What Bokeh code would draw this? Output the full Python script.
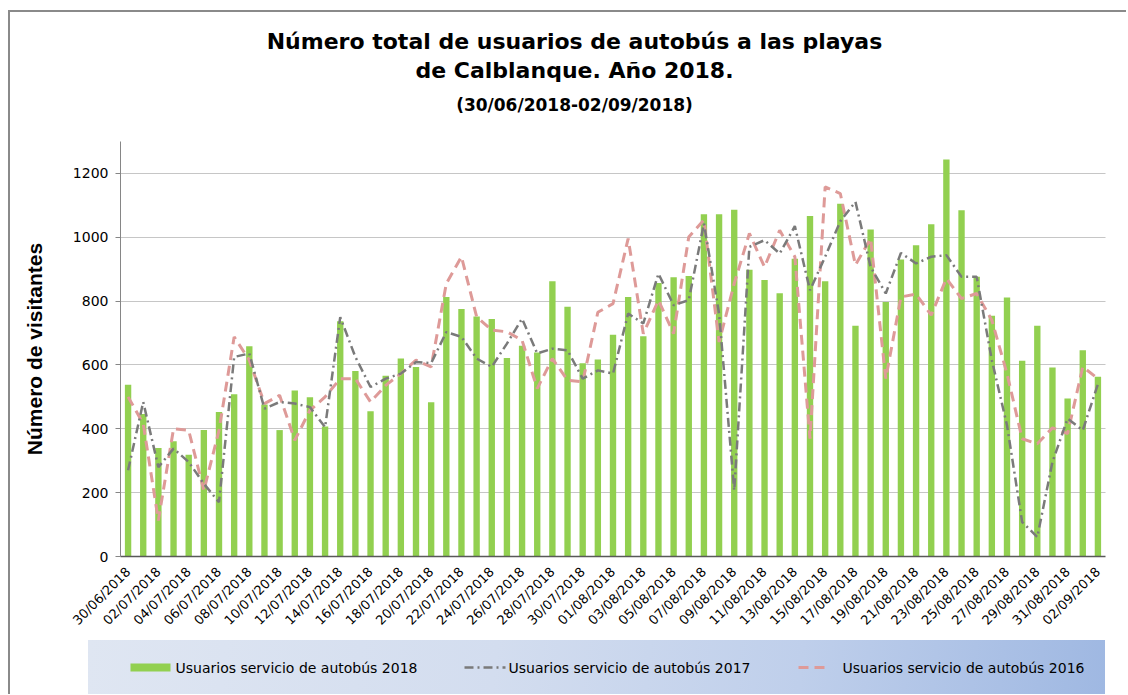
from math import pi
from bokeh.plotting import figure
from bokeh.layouts import column
from bokeh.models import Range1d, FixedTicker, ColumnDataSource
from bokeh.core.properties import value
from bokeh.embed import file_html
from bokeh.resources import INLINE

# ---------------- data ----------------
dates = [
    "30/06/2018",
    "01/07/2018", "02/07/2018", "03/07/2018", "04/07/2018", "05/07/2018", "06/07/2018", "07/07/2018",
    "08/07/2018", "09/07/2018", "10/07/2018", "11/07/2018", "12/07/2018", "13/07/2018", "14/07/2018",
    "15/07/2018", "16/07/2018", "17/07/2018", "18/07/2018", "19/07/2018", "20/07/2018", "21/07/2018",
    "22/07/2018", "23/07/2018", "24/07/2018", "25/07/2018", "26/07/2018", "27/07/2018", "28/07/2018",
    "29/07/2018", "30/07/2018", "31/07/2018",
    "01/08/2018", "02/08/2018", "03/08/2018", "04/08/2018", "05/08/2018", "06/08/2018", "07/08/2018",
    "08/08/2018", "09/08/2018", "10/08/2018", "11/08/2018", "12/08/2018", "13/08/2018", "14/08/2018",
    "15/08/2018", "16/08/2018", "17/08/2018", "18/08/2018", "19/08/2018", "20/08/2018", "21/08/2018",
    "22/08/2018", "23/08/2018", "24/08/2018", "25/08/2018", "26/08/2018", "27/08/2018", "28/08/2018",
    "29/08/2018", "30/08/2018", "31/08/2018",
    "01/09/2018", "02/09/2018",
]

bus_2018 = [538, 446, 340, 361, 319, 396, 453, 508, 659, 476, 396, 520, 499, 407, 737, 581,
            455, 566, 620, 594, 483, 813, 775, 752, 744, 622, 660, 639, 862, 782, 605, 617,
            695, 813, 690, 857, 875, 879, 1072, 1072, 1086, 898, 866, 825, 933, 1067, 862, 1105,
            723, 1024, 797, 930, 975, 1041, 1244, 1085, 876, 754, 811, 613, 723, 592, 495, 646, 563]

bus_2017 = [270, 484, 280, 338, 296, 228, 170, 625, 636, 463, 484, 479, 468, 405, 750, 625,
            531, 557, 573, 609, 606, 703, 688, 620, 594, 667, 745, 636, 651, 646, 557, 583,
            573, 761, 730, 886, 787, 803, 1043, 761, 207, 970, 991, 949, 1035, 834, 939, 1050,
            1111, 907, 824, 951, 918, 939, 944, 876, 876, 615, 411, 108, 61, 296, 432, 395, 540]

bus_2016 = [500, 416, 113, 400, 395, 207, 395, 688, 615, 479, 505, 364, 458, 500, 557, 557,
            484, 536, 573, 615, 594, 855, 939, 751, 709, 704, 677, 526, 620, 552, 547, 765,
            792, 996, 698, 803, 698, 1001, 1054, 672, 855, 1012, 907, 1022, 939, 369, 1158, 1137,
            913, 996, 557, 813, 822, 756, 871, 808, 824, 740, 573, 369, 353, 403, 385, 594, 557]

series_names = ["Usuarios servicio de autobús 2018",
                "Usuarios servicio de autobús 2017",
                "Usuarios servicio de autobús 2016"]
title_main = ["Número total de usuarios de autobús a las playas", "de Calblanque. Año 2018."]
title_sub = ["(30/06/2018-02/09/2018)"]
y_label = "Número de visitantes"
y_ticks = [0, 200, 400, 600, 800, 1000, 1200]

# ---------------- styles / layout (page pixel coordinates) ----------------
W = 1116
BL, BR = 110, 21          # frame spans page x 120..1105 in every panel
FL, FR = 120, 1105
FONT = "DejaVu Sans"
GREEN = "#92D050"
GRAY = "#7a7a7a"
PINK = "#DE9A98"

idx = list(range(len(dates)))
src = ColumnDataSource(dict(x=idx, d=dates, b18=bus_2018, b17=bus_2017, b16=bus_2016))


def panel(height, top, bottom):
    f = figure(width=W, height=height, x_range=Range1d(FL, FR), y_range=Range1d(bottom, top),
               output_backend="svg", toolbar_location=None,
               min_border_left=BL, min_border_right=BR, min_border_top=0, min_border_bottom=0,
               x_axis_location=None, y_axis_location=None)
    f.grid.visible = False
    f.outline_line_color = None
    return f


# ---------------- title panel (page y 12..141) ----------------
tf = panel(129, 12, 141)
tf.text(x=[574, 574], y=[41, 70], text=title_main, text_font=value(FONT),
        text_font_style="bold", text_font_size="22px", text_align="center",
        text_baseline="middle", text_color="#000000")
tf.text(x=[574], y=[104], text=title_sub, text_font=value(FONT),
        text_font_style="bold", text_font_size="17px", text_align="center",
        text_baseline="middle", text_color="#000000")

# ---------------- main chart (page y 141..640) ----------------
p = figure(width=W, height=499, x_range=Range1d(-0.5, len(dates) - 0.5),
           y_range=Range1d(0, 1300), output_backend="svg", toolbar_location=None,
           min_border_left=BL, min_border_right=BR, min_border_top=0, min_border_bottom=84)
p.outline_line_color = None
p.xgrid.visible = False
p.ygrid.grid_line_color = "#8c8c8c"
p.ygrid.grid_line_dash = "1 1"
p.ygrid.grid_line_width = 1

p.vbar(x="x", top="b18", width=0.42, source=src, fill_color=GREEN, line_color=None)
p.line(x="x", y="b16", source=src, line_color=PINK, line_width=3, line_dash="10 6")
p.line(x="x", y="b17", source=src, line_color=GRAY, line_width=2.5, line_dash="9 4 2 4")

yax = p.yaxis[0]
yax.ticker = FixedTicker(ticks=y_ticks)
yax.axis_line_color = "#868686"
yax.major_tick_line_color = "#868686"
yax.major_tick_out = 5
yax.major_tick_in = 0
yax.minor_tick_line_color = None
yax.major_label_standoff = 7
yax.major_label_text_font = FONT
yax.major_label_text_font_size = "14px"
yax.major_label_text_color = "#000000"
yax.axis_label = y_label
yax.axis_label_text_font = "Liberation Sans"
yax.axis_label_text_font_style = "bold"
yax.axis_label_text_font_size = "21px"
yax.axis_label_text_color = "#000000"
yax.axis_label_standoff = 24

xax = p.xaxis[0]
xax.ticker = FixedTicker(ticks=idx[::2])
xax.major_label_overrides = {i: dates[i] for i in idx}
xax.major_label_orientation = pi / 4
xax.axis_line_color = "#595959"
xax.axis_line_width = 1.5
xax.major_tick_line_color = None
xax.minor_tick_line_color = None
xax.major_label_standoff = 7
xax.major_label_text_font = FONT
xax.major_label_text_font_size = "13px"
xax.major_label_text_color = "#000000"

# ---------------- legend panel (page y 640..694), gradient via CSS ----------------
lf = panel(54, 640, 694)
lf.border_fill_color = None
lf.background_fill_color = None
lf.styles = {
    "background-image": "linear-gradient(95deg, #dfe6f2 0%, #d3ddef 40%, #bfcfeb 70%, #9fb8e2 100%)",
    "background-repeat": "no-repeat",
    "background-position": "78px 0px",
    "background-size": "1017px 100%",
}

ly = 667
lf.rect(x=[150], y=[ly], width=40, height=8, fill_color=GREEN, line_color=None)
lf.line(x=[464, 505], y=[ly, ly], line_color=GRAY, line_width=2.5, line_dash="9 4 2 4")
lf.line(x=[798, 830], y=[ly, ly], line_color=PINK, line_width=3, line_dash="10 6")
lf.text(x=[175, 508, 842], y=[ly] * 3, text=series_names, text_font=value(FONT),
        text_font_size="14px", text_baseline="middle", text_align="left", text_color="#000000")

layout = column(tf, p, lf, styles={"border-top": "2px solid #8a8a8a",
                                    "border-left": "2px solid #8a8a8a",
                                    "margin-top": "10px", "margin-left": "8px"})

open("out.html", "w").write(file_html(layout, INLINE))
